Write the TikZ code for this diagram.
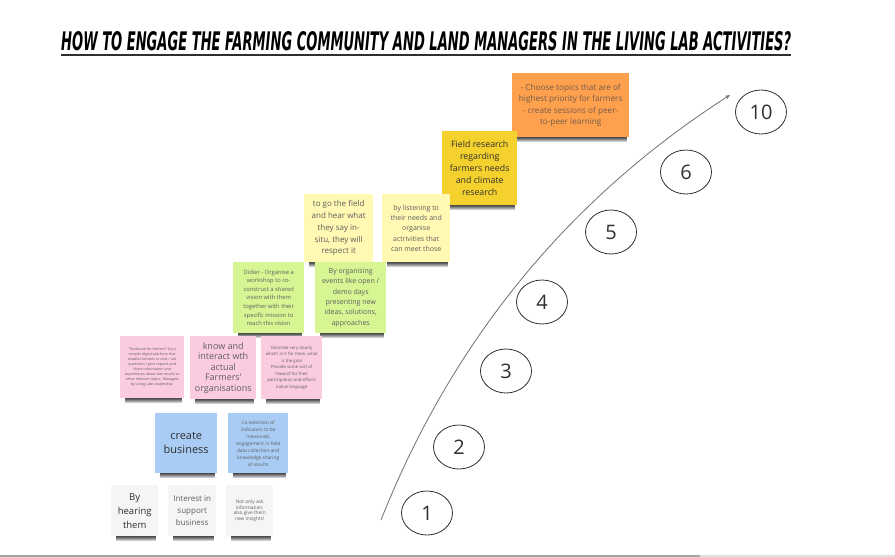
\documentclass[tikz,border=0pt]{standalone}
\usepackage{fontspec}
\usepackage{graphicx}
\setmainfont{Open Sans}
\newfontfamily\titlefont{DejaVu Sans}
\usetikzlibrary{shapes.geometric,fadings,arrows.meta}
\definecolor{cOrange}{HTML}{FFA14C}
\definecolor{cDarkYellow}{HTML}{F5D12E}
\definecolor{cLightYellow}{HTML}{FFF9B3}
\definecolor{cGreen}{HTML}{D6F693}
\definecolor{cPink}{HTML}{FBCCDF}
\definecolor{cBlue}{HTML}{A8CCF4}
\definecolor{cWhite}{HTML}{F4F5F7}
\definecolor{cText}{HTML}{5E5E5E}
\definecolor{cDark}{HTML}{2F2F2F}
\definecolor{cOrangeText}{HTML}{6E5A4C}
\definecolor{cArrow}{HTML}{707070}
\newcommand\fs[2]{\fontsize{#1}{#2}\selectfont}
\newcommand\stickynote[7]{%
  \node[note,#6,minimum width=#4pt,minimum height=#5pt,anchor=north west] (#1) at (#2,#3) {#7};
  \fill[noteshadow] ([xshift=5pt]#1.south west) rectangle ([xshift=-2pt,yshift=-5pt]#1.south east);
}
\tikzset{
  note/.style={inner sep=0pt, align=center, text=cText},
  noteshadow/.style={fill=black!70, path fading=south},
  stepnum/.style={ellipse, draw=cDark, line width=0.8pt, minimum width=51pt, minimum height=44pt, inner sep=0pt, text=cDark, font=\fs{20}{20}},
  arc/.style={draw=cArrow, line width=0.8pt, -{Stealth[length=5pt,width=4pt]}},
}
\begin{document}
\begin{tikzpicture}[x=1pt,y=-1pt]
\useasboundingbox (0,0) rectangle (895,557);
% title
\node[anchor=south west, inner sep=0pt] (title) at (61,51)
  {\resizebox{730pt}{19pt}{\titlefont\bfseries\itshape HOW TO ENGAGE THE FARMING COMMUNITY AND LAND MANAGERS IN THE LIVING LAB ACTIVITIES?}};
\draw[line width=2pt, cDark] ([yshift=-4pt]title.south west) -- ([yshift=-4pt]title.south east);

% sticky notes
\stickynote{orange}{512}{73}{117}{64}{fill=cOrange, text=cOrangeText, font=\fs{8.2}{11.5}}{- Choose topics that are of\\highest priority for farmers\\- create sessions of peer-\\to-peer learning}
\stickynote{field}{442}{131}{75}{74}{fill=cDarkYellow, text=cDark, font=\fs{8.8}{12}}{Field research\\regarding\\farmers needs\\and climate\\research}
\stickynote{gofield}{304}{194}{69}{68}{fill=cLightYellow, font=\fs{8}{11.7}}{to go the field\\and hear what\\they say in-\\situ, they will\\respect it}
\stickynote{listen}{382}{194}{68}{68}{fill=cLightYellow, font=\fs{7}{10.4}}{by listening to\\their needs and\\organise\\actrivities that\\can meet those}
\stickynote{didier}{233}{262}{71}{71}{fill=cGreen, font=\fs{5.8}{8.6}}{Didier - Organise a\\workshop to co-\\construct a shared\\vision with them\\together with their\\specific mission to\\reach this vision}
\stickynote{events}{315}{262}{71}{71}{fill=cGreen, font=\fs{7}{10.3}}{By organising\\events like open /\\demo days\\presenting new\\ideas, solutions,\\approaches}
\stickynote{facebook}{120}{336}{64}{62}{fill=cPink, font=\fs{3.6}{5}}{“Facebook for farmers” (is) a\\simpler digital platform that\\enables farmers to chat / ask\\questions / post reports and\\share information and\\experiences about test results or\\other relevant topics. Managed\\by Living Labs leadership.}
\stickynote{know}{190}{336}{66}{63}{fill=cPink, font=\fs{9}{10.5}}{know and\\interact wth\\actual\\Farmers'\\organisations}
\stickynote{describe}{261}{336}{61}{63}{fill=cPink, font=\fs{4.3}{6.5}}{Describe very clearly\\what's in it for them, what\\is the goal\\Provide some sort of\\'reward' for their\\participation and efforts\\native language}
\stickynote{business}{155}{413}{62}{60}{fill=cBlue, text=cDark, font=\fs{11}{14.3}}{create\\business}
\stickynote{coselect}{228}{413}{60}{60}{fill=cBlue, font=\fs{4.8}{7}}{Co-selection of\\indicators to be\\measured,\\engagement in field\\data collection and\\knowledge sharing\\of results}
\stickynote{hearing}{111}{485}{47}{51}{fill=cWhite, text=cDark, font=\fs{9.5}{14}}{By\\hearing\\them}
\stickynote{interest}{168}{485}{48}{51}{fill=cWhite, font=\fs{8}{11.7}}{Interest in\\support\\business}
\stickynote{insights}{226}{485}{47}{51}{fill=cWhite, font=\fs{4.8}{5.6}}{Not only ask\\information,\\also give them\\new insights!}

% progress steps
\node[stepnum] (s1) at (427,513) {1};
\node[stepnum] (s2) at (459,447) {2};
\node[stepnum] (s3) at (506,371) {3};
\node[stepnum] (s4) at (542,302) {4};
\node[stepnum] (s5) at (611,232) {5};
\node[stepnum] (s6) at (686,172) {6};
\node[stepnum] (s10) at (761,112) {10};

% arrow
\coordinate (arrowstart) at (381,520);
\coordinate (arrowend) at (730,95);
\draw[arc] (arrowstart) .. controls (452,341) and (568,199) .. (arrowend);

% bottom bar
\draw[black!35, line width=2pt] (0,555.5) -- (700,555.5);
\draw[black!12, line width=2pt] (700,555.5) -- (895,555.5);
\end{tikzpicture}
\end{document}
